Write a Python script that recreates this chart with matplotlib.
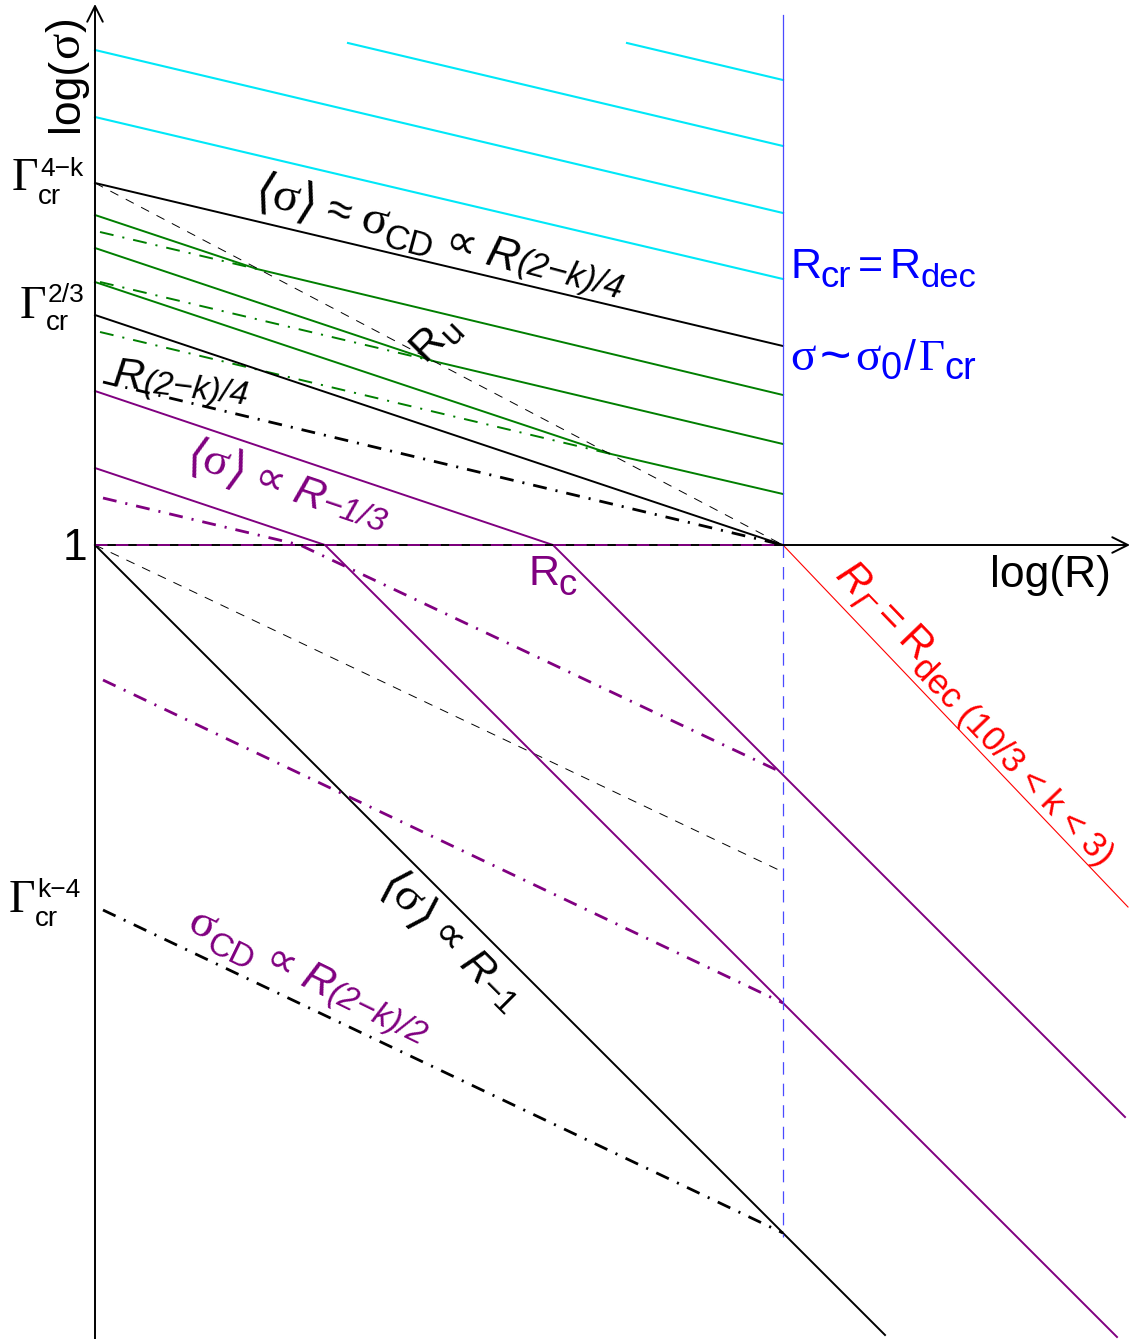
import numpy as np
import matplotlib
matplotlib.use('Agg')
import matplotlib.pyplot as plt

plt.rcParams['lines.scale_dashes'] = False
plt.rcParams['mathtext.fontset'] = 'dejavusans'

SANS = ['Liberation Sans', 'DejaVu Sans']
SERIF = ['Liberation Serif', 'DejaVu Serif']
PURPLE = '#800080'
GREEN = '#007f00'
CYAN = '#00e8f8'

# schematic in pixel units of the original sketch (x right, y down)
x0, y1, x_cr = 95, 545, 783

cyan_lines = [([95, 783], [50, 213]), ([95, 783], [117, 279]),
              ([348, 783], [43, 146]), ([627, 783], [43, 80])]
black_solid = [([95, 783], [183, 346]), ([95, 783], [315, 545]),
               ([95, 885], [545, 1335])]
black_dashed = [([95, 783], [183, 545]), ([95, 783], [545, 872])]
black_dashdot = [([103, 783], [382, 545]), ([103, 783], [910, 1233])]
green_solid = [([95, 257, 783], [215, 269, 395]),
               ([95, 433, 783], [248, 361, 444]),
               ([95, 611, 783], [282, 454, 494])]
green_dashdot = [([100, 257], [232, 269]), ([100, 433], [282, 361]),
                 ([100, 611], [332, 454])]
purple_solid = [([95, 553, 1125], [391, 545, 1117]),
                ([95, 325, 1117], [468, 545, 1337])]
purple_dashdot = [([103, 300, 783], [498, 545, 773]), ([103, 783], [680, 1003])]
red_line = ([783, 1128], [545, 907])

fig = plt.figure(figsize=(11.33, 13.39), dpi=100)
ax = fig.add_axes([0, 0, 1, 1])
ax.set_xlim(0, 1133)
ax.set_ylim(1339, 0)
ax.axis('off')
renderer = fig.canvas.get_renderer()

DD = (0, (10, 6.5, 1.5, 6.5))

for xs, ys in cyan_lines:
    ax.plot(xs, ys, color=CYAN, lw=1.5)
for xs, ys in green_solid:
    ax.plot(xs, ys, color=GREEN, lw=1.4)
for xs, ys in green_dashdot:
    ax.plot(xs, ys, color=GREEN, lw=1.4, ls=DD)
for xs, ys in black_solid:
    ax.plot(xs, ys, color='k', lw=1.4)
for xs, ys in black_dashed:
    ax.plot(xs, ys, color='k', lw=0.7, ls=(0, (6.5, 6)))
for xs, ys in black_dashdot:
    ax.plot(xs, ys, color='k', lw=2.0, ls=DD)
for xs, ys in purple_solid:
    ax.plot(xs, ys, color=PURPLE, lw=1.4)
for xs, ys in purple_dashdot:
    ax.plot(xs, ys, color=PURPLE, lw=2.0, ls=DD)
ax.plot(*red_line, color='red', lw=0.8)

# axes and R_cr line
ax.plot([x0, x_cr], [y1, y1], color='k', lw=1.4)
ax.plot([x0, x_cr], [y1, y1], color=PURPLE, lw=1.4, ls=(0, (9, 6)))
ax.plot([x_cr, x_cr], [15, y1], color='#4a4aff', lw=0.9)
ax.plot([x_cr, x_cr], [y1, 1237], color='#4a4aff', lw=0.9, ls=(0, (9, 6.5)))
ax.annotate('', xy=(x0, 4), xytext=(x0, 1339),
            arrowprops=dict(arrowstyle='->', lw=1.4, color='k', mutation_scale=28,
                            shrinkA=0, shrinkB=0))
ax.annotate('', xy=(1130, y1), xytext=(x_cr - 2, y1),
            arrowprops=dict(arrowstyle='->', lw=1.4, color='k', mutation_scale=28,
                            shrinkA=0, shrinkB=0))


def rich(x, y, pieces, fs=31, color='k', angle=0):
    th = np.radians(angle)
    c, s = np.cos(th), np.sin(th)
    em = fs * 100 / 72
    cur = 0.0
    for p in pieces:
        txt, st, sc, dy = p[:4]
        gap = p[4] if len(p) > 4 else 0
        kw = dict(fontsize=fs * sc, color=color, ha='left', va='baseline',
                  rotation_mode='anchor')
        if st == 'si':
            kw.update(family=SANS, style='italic')
        elif st == 'g':
            kw.update(family=SERIF)
        else:
            kw.update(family=SANS)
        t = ax.text(0, 0, txt, **kw)
        w = t.get_window_extent(renderer).width
        t.set_rotation(angle)
        t.set_position((x + cur * c + dy * em * s, y - cur * s + dy * em * c))
        cur += w + gap * em


LA = (r'$\langle$', 'm', 1.12, 0.06)
RA = (r'$\rangle$', 'm', 1.12, 0.06, 0.3)
SIG = ('σ', 'g', 1.1, 0)
PROP = ('∝', 's', 1, 0, 0.25)

# axis labels
rich(78, 132, [('log(', 's', 1, 0), SIG, (')', 's', 1, 0)], fs=32, angle=90)
rich(990, 587, [('log(R)', 's', 1, 0)], fs=32)
rich(63, 560, [('1', 's', 1, 0)], fs=32)

# Gamma tick labels
gam_labels = [((12, 190), '4−k', 176, 204), ((20, 318), '2/3', 302, 330),
              ((9, 912), 'k−4', 897, 926)]
for (gx, gy), sup, ysup, ysub in gam_labels:
    rich(gx, gy, [('Γ', 'g', 1, 0)], fs=33)
    rich(gx + 28, ysup, [(sup, 's', 1, 0)], fs=19)
    rich(gx + 26, ysub, [('cr', 's', 1, 0)], fs=20)

# slanted annotations
rich(252, 202, [LA, SIG, RA, ('≈', 's', 1, 0, 0.25), SIG,
                ('CD', 's', 0.78, 0.2, 0.25), PROP, ('R', 'si', 1, 0),
                ('(2−k)/4', 'si', 0.78, -0.02)], fs=32, angle=-15)
rich(425, 362, [('R', 's', 1, 0), ('u', 's', 0.8, 0.2)], angle=45)
rich(112, 386, [('R', 'si', 1, 0), ('(2−k)/4', 'si', 0.78, 0.05)], angle=-7)
rich(183, 465, [LA, SIG, RA, PROP, ('R', 'si', 1, 0), ('−1/3', 'si', 0.78, 0.03)],
     color=PURPLE, angle=-18.6)
rich(528, 585, [('R', 's', 1, 0), ('c', 's', 0.85, 0.23)], color=PURPLE)
rich(790, 278, [('R', 's', 1, 0), ('cr', 's', 0.85, 0.22, 0.15), ('=', 's', 1, 0, 0.15),
                ('R', 's', 1, 0), ('dec', 's', 0.8, 0.22)], color='blue')
rich(790, 370, [('σ', 'g', 1.1, 0, 0.1), ('~', 's', 1.25, 0.08, 0.1), ('σ', 'g', 1.1, 0),
                ('0', 's', 0.88, 0.22, 0.05), ('/', 's', 1, 0, 0.05), ('Γ', 'g', 1.05, 0),
                ('cr', 's', 0.88, 0.2)], color='blue')
rich(834, 577, [('R', 'si', 1, 0), ('Γ', 'si', 0.78, 0.22, 0.2), ('=', 's', 1, 0, 0.2),
                ('R', 's', 1, 0), ('dec (10/3 < k < 3)', 's', 0.84, 0.22)],
     fs=30, color='red', angle=-46.2)
rich(377, 886, [LA, SIG, RA, PROP, ('R', 'si', 1, 0), ('−1', 's', 0.78, 0.05)],
     angle=-45)
rich(185, 930, [SIG, ('CD', 's', 0.78, 0.22, 0.25), PROP, ('R', 'si', 1, 0),
                ('(2−k)/2', 'si', 0.78, 0.03)], color=PURPLE, angle=-26)

fig.savefig('out.png', dpi=100)
